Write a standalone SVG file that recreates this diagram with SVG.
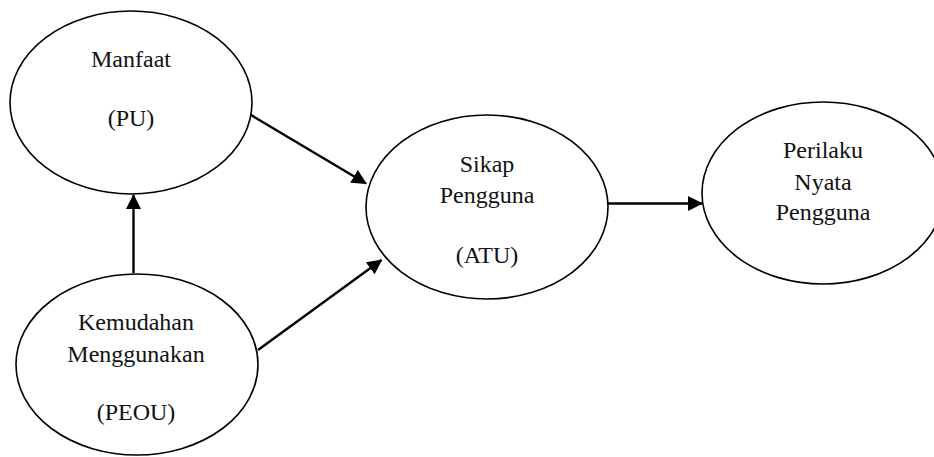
<svg xmlns="http://www.w3.org/2000/svg" width="934" height="457" viewBox="0 0 934 457">
  <style>
    .node ellipse { fill: #fff; stroke: #000; stroke-width: 1.6; }
    .node text { font-family: "Liberation Serif", "Times New Roman", serif; font-size: 24px; fill: #111; text-anchor: middle; }
    .edge { stroke: #000; stroke-width: 2.4; fill: none; marker-end: url(#arrow); }
  </style>
  <defs>
    <marker id="arrow" markerUnits="userSpaceOnUse" markerWidth="15" markerHeight="16" refX="14" refY="8" orient="auto">
      <path d="M0,0.5 L15,8 L0,15.5 z" fill="#000"/>
    </marker>
  </defs>
  <rect width="934" height="457" fill="#fff"/>
  <g id="pu" class="node">
    <ellipse cx="131" cy="102.5" rx="121" ry="91.5"/>
    <text x="131" y="67">Manfaat</text>
    <text x="131" y="126">(PU)</text>
  </g>
  <g id="peou" class="node">
    <ellipse cx="137" cy="364.5" rx="121" ry="90.5"/>
    <text x="136" y="330">Kemudahan</text>
    <text x="136" y="362">Menggunakan</text>
    <text x="136" y="420">(PEOU)</text>
  </g>
  <g id="atu" class="node">
    <ellipse cx="487" cy="207" rx="121" ry="92"/>
    <text x="487" y="172">Sikap</text>
    <text x="487" y="203">Pengguna</text>
    <text x="487" y="263">(ATU)</text>
  </g>
  <g id="perilaku" class="node">
    <ellipse cx="823" cy="193" rx="121" ry="91"/>
    <text x="823" y="158">Perilaku</text>
    <text x="823" y="190">Nyata</text>
    <text x="823" y="220">Pengguna</text>
  </g>
  <g id="connectors">
    <line class="edge" x1="133.5" y1="273" x2="133.5" y2="195"/>
    <line class="edge" x1="251" y1="115" x2="366" y2="183.5"/>
    <line class="edge" x1="258" y1="350" x2="381.5" y2="260"/>
    <line class="edge" x1="608" y1="203.5" x2="702" y2="203.5"/>
  </g>
</svg>
